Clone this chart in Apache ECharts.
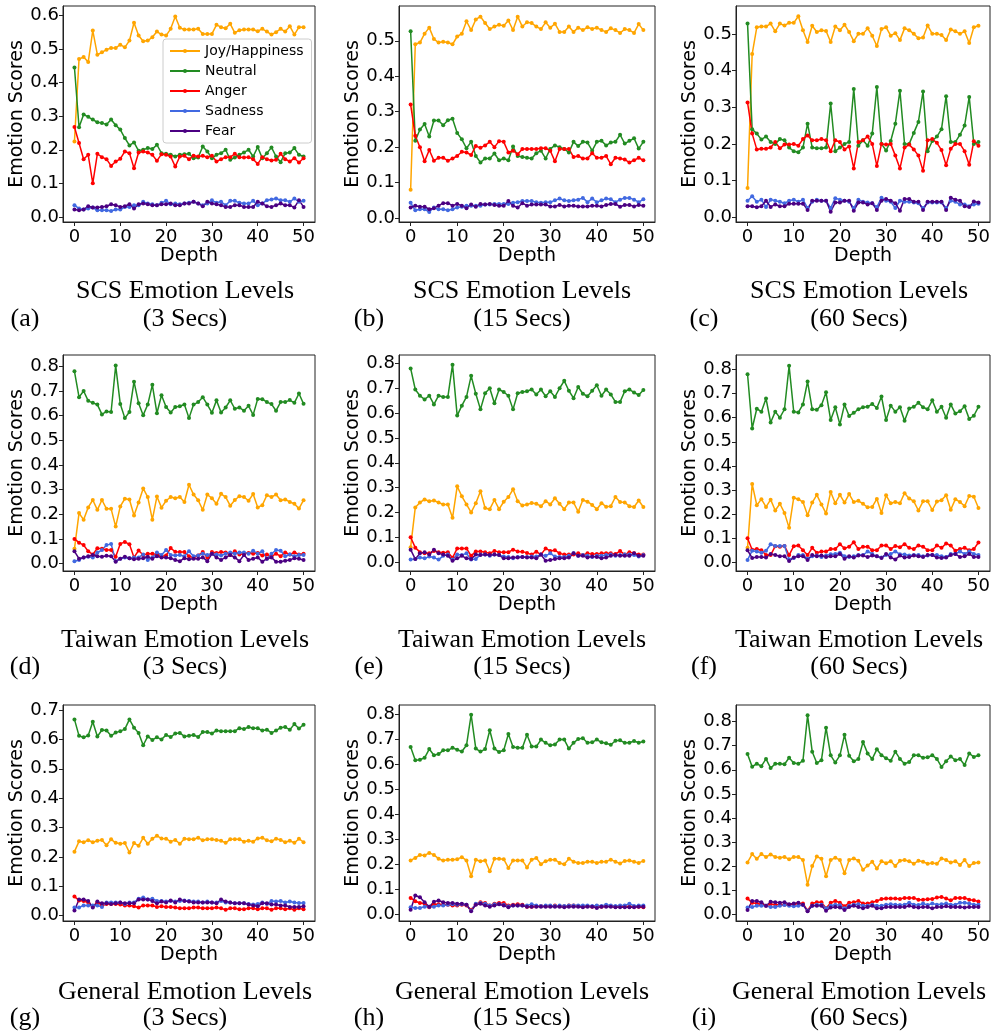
<!DOCTYPE html>
<html><head><meta charset="utf-8">
<script src="https://cdn.jsdelivr.net/npm/echarts@6/dist/echarts.min.js"></script>
<style>html,body{margin:0;padding:0;background:#fff}#c{width:996px;height:1035px}</style>
</head><body><div id="c"></div>
<script>
// ---------- data ----------
const depth = [0,1,2,3,4,5,6,7,8,9,10,11,12,13,14,15,16,17,18,19,20,21,22,23,24,25,26,27,28,29,30,31,32,33,34,35,36,37,38,39,40,41,42,43,44,45,46,47,48,49,50];
const seriesNames = ['Joy/Happiness','Neutral','Anger','Sadness','Fear'];
const xTicks = [0,10,20,30,40,50];
const yTicks06 = [0,0.1,0.2,0.3,0.4,0.5,0.6];
const yTicks05 = [0,0.1,0.2,0.3,0.4,0.5];
const yTicks07 = [0,0.1,0.2,0.3,0.4,0.5,0.6,0.7];
const yTicks08 = [0,0.1,0.2,0.3,0.4,0.5,0.6,0.7,0.8];
const captionTitles = ['SCS Emotion Levels','SCS Emotion Levels','SCS Emotion Levels','Taiwan Emotion Levels','Taiwan Emotion Levels','Taiwan Emotion Levels','General Emotion Levels','General Emotion Levels','General Emotion Levels'];
const captionSubs = ['(3 Secs)','(15 Secs)','(60 Secs)','(3 Secs)','(15 Secs)','(60 Secs)','(3 Secs)','(15 Secs)','(60 Secs)'];
const captionLetters = ['(a)','(b)','(c)','(d)','(e)','(f)','(g)','(h)','(i)'];

// (a) SCS 3 Secs
const scs3Joy = [0.225,0.47,0.476,0.461,0.555,0.483,0.49,0.498,0.503,0.503,0.513,0.505,0.525,0.578,0.54,0.523,0.525,0.535,0.552,0.543,0.54,0.56,0.597,0.563,0.558,0.558,0.558,0.56,0.545,0.545,0.545,0.572,0.565,0.562,0.575,0.548,0.556,0.558,0.558,0.558,0.553,0.56,0.552,0.543,0.55,0.56,0.552,0.568,0.543,0.565,0.565];
const scs3Neutral = [0.445,0.267,0.305,0.298,0.29,0.282,0.28,0.275,0.29,0.273,0.26,0.235,0.213,0.222,0.197,0.2,0.205,0.202,0.215,0.19,0.188,0.185,0.18,0.185,0.187,0.188,0.175,0.177,0.21,0.195,0.175,0.185,0.19,0.2,0.17,0.177,0.185,0.192,0.2,0.18,0.208,0.175,0.19,0.207,0.18,0.163,0.19,0.192,0.205,0.185,0.18];
const scs3Anger = [0.268,0.22,0.172,0.185,0.1,0.188,0.178,0.172,0.152,0.165,0.173,0.195,0.19,0.145,0.192,0.195,0.192,0.185,0.167,0.187,0.185,0.18,0.15,0.18,0.182,0.172,0.182,0.18,0.182,0.178,0.182,0.165,0.172,0.178,0.178,0.188,0.178,0.177,0.178,0.172,0.158,0.178,0.172,0.168,0.17,0.188,0.172,0.165,0.175,0.162,0.175];
const scs3Sadness = [0.035,0.025,0.022,0.025,0.028,0.02,0.02,0.02,0.018,0.022,0.022,0.03,0.03,0.035,0.035,0.045,0.04,0.038,0.035,0.042,0.048,0.038,0.04,0.038,0.04,0.042,0.045,0.04,0.035,0.04,0.05,0.042,0.045,0.035,0.048,0.048,0.042,0.04,0.04,0.048,0.035,0.04,0.05,0.052,0.055,0.05,0.05,0.045,0.055,0.045,0.048];
const scs3Fear = [0.022,0.02,0.022,0.032,0.028,0.028,0.03,0.032,0.038,0.035,0.03,0.032,0.038,0.025,0.038,0.04,0.038,0.035,0.035,0.038,0.038,0.04,0.035,0.035,0.04,0.04,0.045,0.04,0.032,0.045,0.04,0.038,0.035,0.03,0.03,0.035,0.035,0.03,0.03,0.03,0.045,0.04,0.032,0.03,0.035,0.04,0.035,0.035,0.028,0.05,0.03];

// (b) SCS 15 Secs
const scs15Joy = [0.08,0.49,0.495,0.52,0.537,0.505,0.495,0.497,0.495,0.49,0.512,0.52,0.555,0.53,0.56,0.568,0.55,0.533,0.54,0.545,0.542,0.557,0.53,0.568,0.54,0.552,0.55,0.54,0.533,0.552,0.537,0.548,0.525,0.525,0.54,0.525,0.537,0.53,0.538,0.533,0.537,0.53,0.525,0.535,0.53,0.522,0.533,0.53,0.522,0.547,0.53];
const scs15Neutral = [0.527,0.218,0.25,0.265,0.23,0.275,0.275,0.262,0.276,0.28,0.24,0.222,0.197,0.215,0.175,0.157,0.168,0.168,0.182,0.163,0.168,0.163,0.202,0.175,0.172,0.17,0.168,0.183,0.19,0.168,0.195,0.205,0.2,0.195,0.185,0.215,0.203,0.215,0.213,0.19,0.215,0.218,0.205,0.213,0.215,0.235,0.21,0.218,0.225,0.196,0.215];
const scs15Anger = [0.32,0.232,0.2,0.16,0.192,0.162,0.17,0.17,0.162,0.168,0.175,0.187,0.185,0.178,0.203,0.198,0.205,0.215,0.2,0.217,0.215,0.185,0.19,0.18,0.195,0.195,0.195,0.195,0.197,0.197,0.19,0.16,0.195,0.195,0.195,0.172,0.175,0.168,0.168,0.183,0.17,0.17,0.175,0.152,0.17,0.168,0.165,0.157,0.163,0.17,0.163];
const scs15Sadness = [0.043,0.022,0.025,0.025,0.017,0.03,0.025,0.025,0.022,0.025,0.03,0.032,0.035,0.035,0.035,0.035,0.038,0.038,0.04,0.04,0.04,0.04,0.043,0.045,0.048,0.048,0.048,0.045,0.043,0.045,0.045,0.05,0.055,0.05,0.048,0.05,0.052,0.057,0.045,0.055,0.045,0.05,0.055,0.053,0.045,0.052,0.057,0.057,0.052,0.045,0.053];
const scs15Fear = [0.03,0.035,0.032,0.032,0.025,0.028,0.035,0.042,0.042,0.035,0.04,0.035,0.028,0.038,0.032,0.04,0.038,0.04,0.037,0.035,0.035,0.048,0.035,0.03,0.042,0.035,0.038,0.038,0.038,0.038,0.033,0.033,0.037,0.033,0.035,0.035,0.033,0.033,0.033,0.035,0.035,0.033,0.037,0.04,0.04,0.032,0.037,0.037,0.033,0.037,0.035];

// (c) SCS 60 Secs
const scs60Joy = [0.08,0.445,0.518,0.52,0.52,0.528,0.507,0.528,0.523,0.53,0.53,0.548,0.51,0.478,0.522,0.505,0.51,0.508,0.478,0.52,0.51,0.525,0.505,0.48,0.5,0.5,0.515,0.495,0.467,0.513,0.518,0.495,0.502,0.483,0.515,0.51,0.5,0.488,0.49,0.523,0.5,0.5,0.497,0.483,0.512,0.507,0.5,0.507,0.475,0.518,0.522];
const scs60Neutral = [0.528,0.24,0.228,0.212,0.22,0.205,0.2,0.213,0.21,0.19,0.18,0.177,0.19,0.255,0.19,0.188,0.188,0.19,0.31,0.18,0.19,0.2,0.205,0.35,0.195,0.21,0.195,0.228,0.355,0.2,0.182,0.208,0.255,0.345,0.2,0.2,0.23,0.26,0.343,0.18,0.208,0.22,0.24,0.33,0.205,0.205,0.225,0.25,0.328,0.2,0.205];
const scs60Anger = [0.313,0.228,0.185,0.187,0.187,0.19,0.205,0.188,0.198,0.198,0.2,0.195,0.213,0.223,0.21,0.21,0.213,0.21,0.18,0.21,0.205,0.185,0.193,0.133,0.205,0.21,0.22,0.2,0.14,0.2,0.198,0.2,0.168,0.133,0.19,0.198,0.185,0.168,0.127,0.21,0.213,0.203,0.183,0.142,0.187,0.2,0.2,0.18,0.143,0.207,0.195];
const scs60Sadness = [0.045,0.057,0.042,0.048,0.028,0.048,0.045,0.042,0.038,0.045,0.048,0.042,0.048,0.025,0.042,0.048,0.045,0.045,0.025,0.052,0.048,0.045,0.042,0.025,0.048,0.042,0.04,0.038,0.028,0.053,0.045,0.042,0.025,0.045,0.042,0.042,0.04,0.038,0.025,0.04,0.04,0.04,0.04,0.025,0.045,0.042,0.035,0.035,0.03,0.035,0.037];
const scs60Fear = [0.03,0.03,0.027,0.03,0.045,0.028,0.035,0.03,0.03,0.037,0.037,0.037,0.037,0.02,0.045,0.045,0.045,0.045,0.015,0.04,0.04,0.045,0.045,0.018,0.04,0.04,0.035,0.038,0.02,0.045,0.05,0.045,0.038,0.018,0.05,0.05,0.042,0.042,0.02,0.042,0.042,0.042,0.042,0.02,0.053,0.048,0.045,0.03,0.028,0.043,0.04];

// (d) Taiwan 3 Secs
const tw3Joy = [0.06,0.205,0.178,0.228,0.258,0.218,0.258,0.222,0.222,0.15,0.232,0.263,0.26,0.195,0.248,0.305,0.27,0.178,0.272,0.227,0.255,0.27,0.265,0.27,0.25,0.32,0.28,0.257,0.218,0.28,0.265,0.243,0.283,0.27,0.235,0.258,0.273,0.27,0.255,0.282,0.228,0.237,0.277,0.27,0.28,0.257,0.26,0.25,0.243,0.223,0.257];
const tw3Neutral = [0.78,0.675,0.7,0.66,0.652,0.645,0.605,0.617,0.615,0.803,0.647,0.59,0.615,0.738,0.65,0.602,0.645,0.725,0.61,0.683,0.635,0.613,0.635,0.638,0.645,0.59,0.645,0.655,0.675,0.645,0.612,0.662,0.613,0.633,0.662,0.628,0.633,0.62,0.64,0.603,0.668,0.667,0.655,0.647,0.62,0.655,0.655,0.663,0.652,0.69,0.648];
const tw3Anger = [0.1,0.085,0.075,0.05,0.037,0.062,0.06,0.055,0.055,0.028,0.08,0.088,0.078,0.025,0.053,0.035,0.04,0.04,0.037,0.03,0.033,0.063,0.048,0.047,0.047,0.03,0.025,0.033,0.047,0.025,0.047,0.043,0.047,0.045,0.035,0.05,0.037,0.04,0.043,0.04,0.043,0.033,0.037,0.028,0.04,0.03,0.045,0.037,0.045,0.037,0.04];
const tw3Sadness = [0.01,0.015,0.025,0.028,0.025,0.045,0.055,0.075,0.08,0.01,0.02,0.025,0.022,0.025,0.025,0.037,0.015,0.025,0.045,0.035,0.055,0.035,0.033,0.035,0.03,0.05,0.03,0.033,0.04,0.035,0.04,0.037,0.033,0.04,0.045,0.04,0.045,0.045,0.04,0.052,0.04,0.05,0.02,0.04,0.055,0.052,0.03,0.037,0.03,0.035,0.035];
const tw3Fear = [0.05,0.02,0.025,0.03,0.035,0.03,0.028,0.032,0.03,0.008,0.02,0.028,0.022,0.018,0.02,0.022,0.028,0.02,0.03,0.025,0.025,0.022,0.015,0.01,0.022,0.018,0.02,0.02,0.025,0.01,0.04,0.025,0.015,0.025,0.035,0.025,0.01,0.035,0.015,0.02,0.025,0.008,0.02,0.025,0.008,0.008,0.012,0.015,0.022,0.02,0.015];

// (e) Taiwan 15 Secs
const tw15Joy = [0.06,0.22,0.24,0.252,0.245,0.248,0.24,0.232,0.232,0.178,0.305,0.265,0.232,0.2,0.237,0.285,0.218,0.213,0.25,0.213,0.243,0.262,0.293,0.245,0.228,0.232,0.238,0.235,0.225,0.245,0.232,0.257,0.235,0.213,0.24,0.24,0.203,0.25,0.243,0.23,0.213,0.237,0.223,0.225,0.262,0.242,0.24,0.225,0.222,0.248,0.222];
const tw15Neutral = [0.78,0.695,0.67,0.655,0.67,0.635,0.67,0.665,0.665,0.795,0.59,0.63,0.665,0.75,0.678,0.615,0.68,0.7,0.64,0.695,0.685,0.67,0.615,0.68,0.685,0.688,0.695,0.675,0.695,0.668,0.688,0.665,0.7,0.73,0.69,0.66,0.705,0.678,0.668,0.69,0.712,0.67,0.695,0.675,0.645,0.645,0.688,0.695,0.683,0.673,0.693];
const tw15Anger = [0.1,0.058,0.04,0.035,0.035,0.045,0.04,0.038,0.04,0.017,0.055,0.055,0.055,0.025,0.043,0.043,0.04,0.035,0.045,0.04,0.04,0.04,0.05,0.043,0.042,0.037,0.03,0.042,0.03,0.055,0.045,0.048,0.035,0.03,0.03,0.03,0.035,0.028,0.035,0.032,0.032,0.035,0.035,0.035,0.032,0.045,0.03,0.04,0.035,0.03,0.03];
const tw15Sadness = [0.01,0.012,0.018,0.015,0.022,0.018,0.01,0.025,0.03,0.01,0.03,0.028,0.035,0.01,0.012,0.03,0.03,0.025,0.03,0.028,0.022,0.02,0.015,0.02,0.02,0.02,0.022,0.022,0.03,0.025,0.035,0.022,0.02,0.02,0.025,0.035,0.025,0.028,0.025,0.02,0.025,0.025,0.028,0.03,0.025,0.028,0.03,0.03,0.028,0.022,0.028];
const tw15Fear = [0.05,0.012,0.035,0.04,0.03,0.05,0.035,0.03,0.025,0.005,0.015,0.025,0.015,0.012,0.03,0.028,0.03,0.028,0.03,0.028,0.015,0.015,0.018,0.018,0.02,0.018,0.018,0.015,0.03,0.005,0.008,0.012,0.015,0.015,0.018,0.035,0.025,0.025,0.018,0.022,0.02,0.015,0.018,0.025,0.028,0.025,0.025,0.025,0.035,0.025,0.025];

// (f) Taiwan 60 Secs
const tw60Joy = [0.06,0.325,0.237,0.262,0.23,0.26,0.215,0.243,0.205,0.143,0.268,0.262,0.25,0.195,0.248,0.28,0.24,0.203,0.292,0.245,0.28,0.248,0.283,0.25,0.255,0.243,0.228,0.23,0.263,0.205,0.278,0.245,0.25,0.245,0.287,0.265,0.253,0.215,0.253,0.253,0.217,0.252,0.258,0.278,0.218,0.262,0.25,0.233,0.275,0.272,0.225];
const tw60Neutral = [0.78,0.555,0.637,0.625,0.68,0.58,0.625,0.6,0.635,0.815,0.625,0.622,0.655,0.75,0.635,0.633,0.652,0.705,0.59,0.643,0.572,0.655,0.607,0.62,0.635,0.643,0.645,0.657,0.64,0.688,0.59,0.65,0.625,0.643,0.587,0.638,0.645,0.662,0.643,0.635,0.672,0.625,0.645,0.6,0.655,0.617,0.627,0.647,0.595,0.608,0.645];
const tw60Anger = [0.1,0.052,0.055,0.05,0.03,0.03,0.067,0.065,0.068,0.03,0.067,0.07,0.05,0.03,0.06,0.04,0.045,0.045,0.055,0.055,0.075,0.058,0.065,0.083,0.055,0.065,0.065,0.05,0.05,0.07,0.07,0.055,0.068,0.063,0.075,0.06,0.055,0.07,0.065,0.05,0.05,0.07,0.06,0.078,0.07,0.048,0.055,0.06,0.05,0.055,0.082];
const tw60Sadness = [0.01,0.048,0.045,0.04,0.048,0.075,0.068,0.068,0.068,0.012,0.018,0.03,0.03,0.015,0.025,0.028,0.022,0.028,0.033,0.035,0.04,0.025,0.022,0.025,0.03,0.03,0.045,0.035,0.025,0.02,0.03,0.035,0.045,0.033,0.032,0.028,0.03,0.03,0.025,0.028,0.03,0.03,0.025,0.022,0.035,0.035,0.045,0.035,0.045,0.035,0.03];
const tw60Fear = [0.05,0.018,0.022,0.022,0.02,0.035,0.03,0.025,0.025,0.005,0.02,0.025,0.025,0.01,0.03,0.025,0.028,0.022,0.025,0.025,0.035,0.015,0.025,0.02,0.028,0.028,0.022,0.028,0.025,0.018,0.035,0.02,0.012,0.028,0.02,0.022,0.028,0.025,0.022,0.03,0.03,0.02,0.018,0.02,0.03,0.035,0.022,0.025,0.035,0.022,0.022];

// (g) General 3 Secs
const gen3Joy = [0.218,0.253,0.25,0.257,0.25,0.255,0.258,0.24,0.26,0.248,0.245,0.247,0.215,0.247,0.238,0.265,0.245,0.262,0.272,0.263,0.262,0.252,0.258,0.245,0.262,0.26,0.26,0.265,0.257,0.26,0.26,0.258,0.255,0.248,0.26,0.26,0.26,0.252,0.255,0.252,0.263,0.265,0.257,0.253,0.262,0.258,0.25,0.255,0.248,0.262,0.25];
const gen3Neutral = [0.668,0.612,0.607,0.613,0.66,0.61,0.632,0.63,0.612,0.623,0.628,0.635,0.668,0.64,0.622,0.58,0.61,0.598,0.607,0.6,0.615,0.608,0.62,0.622,0.61,0.612,0.615,0.608,0.625,0.625,0.62,0.63,0.628,0.628,0.628,0.628,0.638,0.635,0.642,0.638,0.638,0.63,0.633,0.622,0.63,0.64,0.642,0.633,0.652,0.637,0.65];
const gen3Anger = [0.065,0.052,0.05,0.045,0.032,0.045,0.035,0.04,0.04,0.04,0.038,0.035,0.035,0.032,0.028,0.035,0.035,0.035,0.03,0.032,0.03,0.03,0.028,0.025,0.025,0.025,0.028,0.028,0.025,0.025,0.025,0.028,0.025,0.02,0.025,0.025,0.022,0.022,0.025,0.025,0.022,0.025,0.025,0.02,0.025,0.025,0.022,0.025,0.02,0.025,0.022];
const gen3Sadness = [0.028,0.028,0.035,0.035,0.035,0.035,0.03,0.045,0.045,0.045,0.045,0.04,0.045,0.045,0.058,0.062,0.055,0.058,0.05,0.05,0.048,0.05,0.048,0.05,0.052,0.05,0.048,0.048,0.045,0.048,0.045,0.045,0.05,0.045,0.045,0.042,0.042,0.042,0.04,0.038,0.04,0.045,0.04,0.05,0.048,0.05,0.045,0.048,0.045,0.043,0.043];
const gen3Fear = [0.018,0.055,0.055,0.05,0.028,0.048,0.042,0.042,0.04,0.042,0.045,0.042,0.042,0.042,0.055,0.055,0.055,0.05,0.042,0.048,0.045,0.052,0.045,0.055,0.05,0.048,0.045,0.045,0.045,0.045,0.045,0.042,0.055,0.048,0.045,0.042,0.042,0.042,0.038,0.035,0.032,0.042,0.042,0.038,0.038,0.035,0.035,0.03,0.03,0.03,0.032];

// (h) General 15 Secs
const gen15Joy = [0.215,0.225,0.237,0.235,0.245,0.237,0.222,0.215,0.218,0.218,0.22,0.228,0.215,0.152,0.218,0.212,0.215,0.172,0.222,0.222,0.22,0.185,0.215,0.215,0.215,0.187,0.218,0.225,0.2,0.212,0.218,0.218,0.205,0.2,0.222,0.21,0.205,0.205,0.21,0.21,0.205,0.21,0.21,0.218,0.21,0.203,0.213,0.215,0.21,0.205,0.213];
const gen15Neutral = [0.668,0.615,0.617,0.625,0.66,0.635,0.64,0.655,0.655,0.665,0.657,0.65,0.675,0.797,0.662,0.65,0.66,0.735,0.662,0.648,0.655,0.72,0.668,0.665,0.665,0.717,0.67,0.67,0.698,0.685,0.675,0.678,0.698,0.698,0.662,0.685,0.7,0.703,0.685,0.687,0.698,0.687,0.683,0.677,0.693,0.695,0.685,0.685,0.692,0.685,0.69];
const gen15Anger = [0.065,0.052,0.045,0.042,0.028,0.04,0.04,0.038,0.038,0.035,0.035,0.038,0.035,0.018,0.04,0.048,0.045,0.035,0.042,0.045,0.045,0.035,0.038,0.04,0.038,0.03,0.03,0.032,0.033,0.033,0.033,0.035,0.033,0.032,0.035,0.035,0.033,0.03,0.033,0.03,0.033,0.03,0.033,0.033,0.03,0.032,0.032,0.03,0.03,0.03,0.028];
const gen15Sadness = [0.028,0.025,0.025,0.03,0.03,0.03,0.035,0.035,0.038,0.04,0.038,0.04,0.038,0.015,0.042,0.045,0.042,0.035,0.04,0.04,0.038,0.032,0.035,0.035,0.035,0.035,0.04,0.035,0.033,0.035,0.035,0.033,0.035,0.033,0.035,0.035,0.035,0.035,0.035,0.033,0.035,0.033,0.038,0.035,0.033,0.035,0.035,0.042,0.033,0.035,0.035];
const gen15Fear = [0.018,0.075,0.068,0.048,0.03,0.05,0.055,0.048,0.045,0.045,0.042,0.042,0.038,0.012,0.038,0.042,0.035,0.03,0.035,0.04,0.035,0.028,0.035,0.035,0.035,0.03,0.03,0.03,0.03,0.03,0.03,0.03,0.03,0.028,0.03,0.03,0.03,0.028,0.03,0.03,0.025,0.03,0.03,0.03,0.028,0.028,0.028,0.028,0.028,0.03,0.03];

// (i) General 60 Secs
const gen60Joy = [0.215,0.25,0.23,0.25,0.238,0.248,0.238,0.235,0.238,0.228,0.238,0.238,0.225,0.123,0.2,0.24,0.23,0.158,0.225,0.235,0.225,0.17,0.225,0.232,0.222,0.185,0.202,0.218,0.19,0.22,0.212,0.22,0.2,0.222,0.225,0.22,0.21,0.222,0.218,0.21,0.213,0.21,0.232,0.225,0.215,0.22,0.205,0.225,0.2,0.213,0.215];
const gen60Neutral = [0.665,0.613,0.625,0.615,0.645,0.607,0.625,0.625,0.623,0.65,0.628,0.625,0.638,0.826,0.675,0.628,0.64,0.775,0.66,0.63,0.66,0.745,0.658,0.635,0.645,0.715,0.668,0.645,0.685,0.66,0.648,0.637,0.675,0.645,0.625,0.632,0.66,0.66,0.65,0.652,0.66,0.645,0.612,0.635,0.655,0.64,0.645,0.62,0.668,0.653,0.66];
const gen60Anger = [0.065,0.048,0.045,0.042,0.035,0.042,0.04,0.04,0.04,0.04,0.042,0.045,0.045,0.015,0.045,0.05,0.05,0.025,0.048,0.055,0.048,0.033,0.048,0.05,0.055,0.045,0.045,0.05,0.055,0.063,0.065,0.065,0.065,0.063,0.068,0.068,0.068,0.06,0.06,0.062,0.063,0.07,0.072,0.065,0.058,0.068,0.068,0.068,0.06,0.058,0.053];
const gen60Sadness = [0.028,0.03,0.035,0.035,0.035,0.03,0.03,0.035,0.038,0.035,0.033,0.035,0.038,0.015,0.035,0.04,0.04,0.025,0.035,0.04,0.037,0.025,0.035,0.04,0.042,0.035,0.035,0.04,0.035,0.035,0.04,0.042,0.04,0.038,0.04,0.048,0.04,0.038,0.045,0.038,0.045,0.04,0.042,0.045,0.04,0.04,0.048,0.048,0.045,0.04,0.04];
const gen60Fear = [0.018,0.055,0.055,0.05,0.035,0.052,0.05,0.048,0.05,0.042,0.045,0.048,0.04,0.012,0.035,0.035,0.035,0.015,0.028,0.03,0.028,0.018,0.03,0.035,0.03,0.025,0.03,0.035,0.025,0.025,0.03,0.03,0.03,0.03,0.03,0.035,0.03,0.028,0.03,0.03,0.025,0.03,0.03,0.033,0.03,0.03,0.03,0.028,0.03,0.03,0.03];

// ---------- layout / style ----------
const colors = ['#FFA500','#228B22','#FF0000','#4169E1','#4B0082'];
const panelData = [
  [scs3Joy,scs3Neutral,scs3Anger,scs3Sadness,scs3Fear],
  [scs15Joy,scs15Neutral,scs15Anger,scs15Sadness,scs15Fear],
  [scs60Joy,scs60Neutral,scs60Anger,scs60Sadness,scs60Fear],
  [tw3Joy,tw3Neutral,tw3Anger,tw3Sadness,tw3Fear],
  [tw15Joy,tw15Neutral,tw15Anger,tw15Sadness,tw15Fear],
  [tw60Joy,tw60Neutral,tw60Anger,tw60Sadness,tw60Fear],
  [gen3Joy,gen3Neutral,gen3Anger,gen3Sadness,gen3Fear],
  [gen15Joy,gen15Neutral,gen15Anger,gen15Sadness,gen15Fear],
  [gen60Joy,gen60Neutral,gen60Anger,gen60Sadness,gen60Fear]
];
const yTickSets = [yTicks06,yTicks05,yTicks05,yTicks08,yTicks08,yTicks08,yTicks07,yTicks08,yTicks08];
const yRanges = [[-0.015,0.628],[-0.011,0.598],[-0.013,0.576],[-0.03,0.846],[-0.036,0.834],[-0.036,0.860],[-0.018,0.717],[-0.027,0.836],[-0.028,0.869]];
const colLeft = [63,399,736], colWidth = [252,256,254];
const rowTop = [6,355,705], rowHeight = 216;
const capCenter = [185,522,859], letterCenter = [25,369,704];
const capTitleY = [291,640,992], capSubY = [319,667,1018];

const grids=[], xAxes=[], yAxes=[], series=[], graphics=[];
const sansFont = 'DejaVu Sans';
for (let p=0;p<9;p++){
  const r=Math.floor(p/3), c=p%3;
  grids.push({left:colLeft[c], top:rowTop[r], width:colWidth[c], height:rowHeight, show:true, borderColor:'#222', borderWidth:1, backgroundColor:'#fff', containLabel:false});
  xAxes.push({gridIndex:p, type:'value', min:-2.5, max:52.5,
    splitLine:{show:false}, axisLine:{show:true, onZero:false, lineStyle:{color:'#222'}},
    axisTick:{show:true, length:4, inside:false, customValues:xTicks, lineStyle:{color:'#222'}},
    axisLabel:{customValues:xTicks, fontSize:18, fontFamily:sansFont, color:'#000', margin:6, formatter:v=>String(v)},
    name:'Depth', nameLocation:'middle', nameGap:20, nameTextStyle:{fontSize:19, fontFamily:sansFont, color:'#000'}});
  yAxes.push({gridIndex:p, type:'value', min:yRanges[p][0], max:yRanges[p][1],
    splitLine:{show:false}, axisLine:{show:true, onZero:false, lineStyle:{color:'#222'}},
    axisTick:{show:true, length:4, inside:false, customValues:yTickSets[p], lineStyle:{color:'#222'}},
    axisLabel:{customValues:yTickSets[p], fontSize:18, fontFamily:sansFont, color:'#000', margin:4, formatter:v=>v.toFixed(1)},
    name:'Emotion Scores', nameLocation:'middle', nameRotate:90, nameGap:30, nameTextStyle:{fontSize:19, fontFamily:sansFont, color:'#000'}});
  panelData[p].forEach((arr,s)=>{
    series.push({type:'line', name:seriesNames[s], xAxisIndex:p, yAxisIndex:p,
      data:arr.map((v,k)=>[depth[k],v]), symbol:'circle', symbolSize:4, showSymbol:true,
      lineStyle:{width:1.5, color:colors[s]}, itemStyle:{color:colors[s]}, color:colors[s],
      emphasis:{disabled:true}, silent:true, animation:false});
  });
  graphics.push({type:'text', x:capCenter[c], y:capTitleY[r], style:{text:captionTitles[p], font:'26px "Liberation Serif"', fill:'#000', align:'center', verticalAlign:'middle'}});
  graphics.push({type:'text', x:capCenter[c], y:capSubY[r], style:{text:captionSubs[p], font:'26px "Liberation Serif"', fill:'#000', align:'center', verticalAlign:'middle'}});
  graphics.push({type:'text', x:letterCenter[c], y:capSubY[r], style:{text:captionLetters[p], font:'26px "Liberation Serif"', fill:'#000', align:'center', verticalAlign:'middle'}});
}

const chart = echarts.init(document.getElementById('c'), null, {renderer:'canvas'});
chart.setOption({
  animation:false,
  backgroundColor:'#fff',
  grid:grids, xAxis:xAxes, yAxis:yAxes, series:series,
  legend:{show:true, data:seriesNames, orient:'vertical', left:163, top:39,
    itemWidth:30, itemHeight:5, itemGap:6, padding:[5,8,5,6],
    borderColor:'#ccc', borderWidth:1, borderRadius:3, backgroundColor:'rgba(255,255,255,0.85)',
    selectedMode:false, textStyle:{fontSize:14, fontFamily:sansFont, color:'#000', lineHeight:14}},
  graphic:graphics
});
</script></body></html>
